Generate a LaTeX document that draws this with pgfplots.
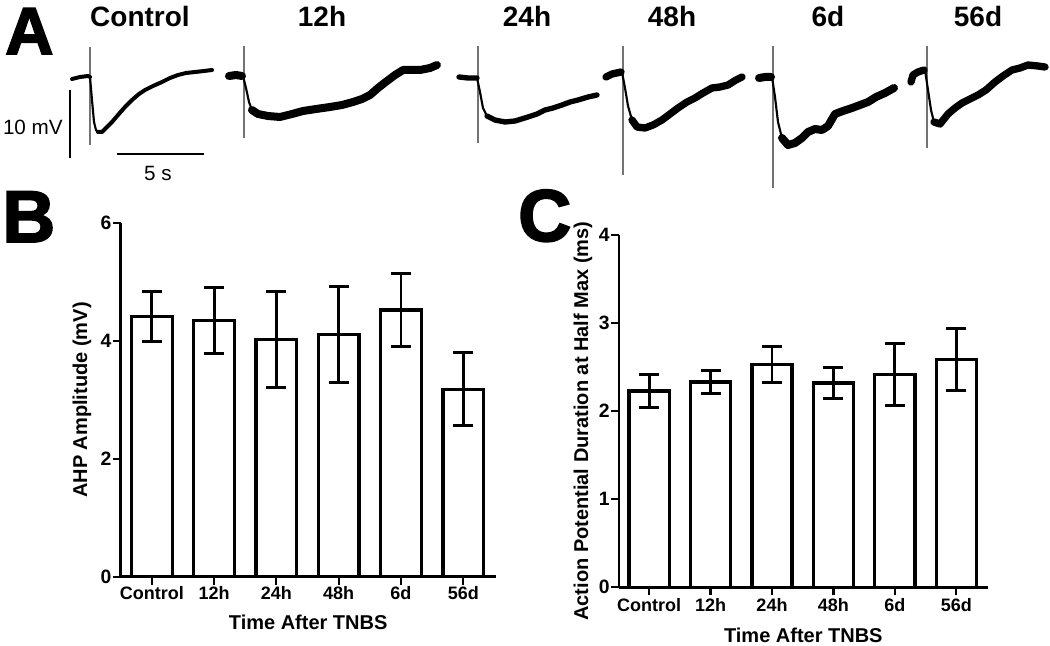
\documentclass[border=0pt]{standalone}
\usepackage{fontspec}
\setmainfont{Liberation Sans}
\newfontfamily\heavy{Liberation Sans Bold}[FakeBold=2.5]
\usepackage{pgfplots}
\usepackage{pgfplotstable}
\pgfplotsset{compat=1.18}
\definecolor{spike}{gray}{0.45}

\pgfplotstableread{
x y e
0 4.42 0.43
1 4.35 0.56
2 4.03 0.81
3 4.11 0.81
4 4.53 0.62
5 3.18 0.62
}\ahp
\pgfplotstableread{
x y e
0 2.23 0.19
1 2.33 0.13
2 2.53 0.20
3 2.32 0.18
4 2.42 0.35
5 2.59 0.35
}\apd

\pgfplotsset{
  barpanel/.style={
    scale only axis,
    axis x line=bottom, axis y line=left,
    x axis line style={-}, y axis line style={-},
    axis line style={line width=2bp, black},
    tick style={line width=1.6bp, black},
    major tick length=6bp,
    xtick align=outside, ytick align=outside,
    ymin=0,
    xtick={0,...,5},
    xticklabels={Control,12h,24h,48h,6d,56d},
    /pgf/number format/assume math mode=true,
    xticklabel style={font=\bfseries\fontsize{13.5bp}{14bp}\selectfont, inner sep=1bp},
    yticklabel style={font=\bfseries\fontsize{14.5bp}{15bp}\selectfont, inner sep=0.8bp},
    xlabel style={font=\bfseries\fontsize{15bp}{16bp}\selectfont},
    ylabel style={font=\bfseries\fontsize{15bp}{16bp}\selectfont},
    xlabel={Time After TNBS},
    ybar, bar width=0.655,
  },
  barplot/.style={
    fill=white, draw=black, line width=2.5bp,
    error bars/.cd, y dir=both, y explicit,
    error bar style={line width=2.2bp, black},
    error mark options={rotate=90, mark size=7.5bp, line width=2.2bp, black},
  },
  thin drop/.style={black, line width=1.6bp, line join=round, line cap=round},
}

\begin{document}
\begin{tikzpicture}
\useasboundingbox (0,0) rectangle (787.5bp,484.5bp);

% ---------- Panel A (pixel coordinates) ----------
\begin{axis}[at={(0,0)}, anchor=south west, scale only axis,
  width=787.5bp, height=484.5bp,
  xmin=0, xmax=1050, ymin=0, ymax=646, y dir=reverse,
  hide axis, clip=false]
% spikes
\addplot[spike, line width=0.8bp] coordinates {(90,47) (90,145)};
\addplot[spike, line width=0.8bp] coordinates {(244,46) (244,138)};
\addplot[spike, line width=0.8bp] coordinates {(478,46) (478,143)};
\addplot[spike, line width=0.8bp] coordinates {(623,46) (623,175)};
\addplot[spike, line width=0.8bp] coordinates {(773,46) (773,188)};
\addplot[spike, line width=0.8bp] coordinates {(927,46) (927,148)};
% Control
\addplot[black, line width=3bp, line join=round, line cap=round] coordinates {(72,79) (80,77) (88,76) (90,77)};
\addplot[thin drop] coordinates {(90,77) (92,100) (94,122) (96,130) (98,132)};
\addplot[black, line width=3bp, line join=round, line cap=round] coordinates {(98,132) (102,132) (106,128) (112,122) (118,115) (125,107) (132,100) (139,94) (145,90) (153,86) (162,82) (170,78) (178,75) (186,73) (195,72) (204,71) (212,70)};
% 12h
\addplot[black, line width=6bp, line join=round, line cap=round] coordinates {(229,76) (236,75) (242,76)};
\addplot[thin drop] coordinates {(243,76) (246,88) (249,102) (252,110)};
\addplot[black, line width=6bp, line join=round, line cap=round] coordinates {(252,110) (258,114) (268,116) (280,117) (292,114) (303,111) (316,109) (330,107) (342,105) (353,102) (362,99) (370,95) (378,88) (387,81) (395,75) (403,70) (412,70) (420,70) (430,68) (437,65)};
% 24h
\addplot[black, line width=4bp, line join=round, line cap=round] coordinates {(459,77) (468,78) (477,78)};
\addplot[thin drop] coordinates {(477,78) (480,92) (483,108) (487,116)};
\addplot[black, line width=4bp, line join=round, line cap=round] coordinates {(487,116) (495,120) (505,122) (515,121) (528,117) (537,114) (545,110) (553,108) (562,105) (570,102) (578,100) (588,97) (597,95)};
% 48h
\addplot[black, line width=5.5bp, line join=round, line cap=round] coordinates {(606,77) (612,74) (621,72)};
\addplot[thin drop] coordinates {(622,72) (625,88) (628,106) (632,120)};
\addplot[black, line width=5.5bp, line join=round, line cap=round] coordinates {(632,120) (637,127) (645,128) (653,125) (662,120) (670,114) (678,108) (687,102) (695,98) (703,93) (712,88) (720,87) (728,85) (736,80) (742,77)};
% 6d
\addplot[black, line width=6bp, line join=round, line cap=round] coordinates {(759,78) (765,77) (771,77)};
\addplot[thin drop] coordinates {(772,77) (775,97) (778,122) (782,138)};
\addplot[black, line width=6bp, line join=round, line cap=round] coordinates {(782,138) (788,145) (795,143) (802,138) (808,132) (815,129) (822,130) (828,126) (835,114) (843,111) (852,108) (860,105) (868,102) (876,97) (885,93) (894,88)};
% 56d
\addplot[black, line width=5.5bp, line join=round, line cap=round] coordinates {(911,82) (913,75) (918,72) (924,70)};
\addplot[thin drop] coordinates {(925,70) (928,90) (931,110) (934,122)};
\addplot[black, line width=5.5bp, line join=round, line cap=round] coordinates {(934,122) (940,124) (948,114) (955,108) (962,103) (970,99) (978,95) (986,90) (995,82) (1003,76) (1012,70) (1020,68) (1028,65) (1038,66) (1045,67)};
% scale bars
\addplot[black, line width=1.6bp] coordinates {(70,90) (70,158)};
\addplot[black, line width=1.6bp] coordinates {(117,154) (204,154)};
\node[anchor=base east, inner sep=0pt, font=\fontsize{15.5bp}{16bp}\selectfont] at (axis cs:63,134) {10 mV};
\node[anchor=base, inner sep=0pt, font=\fontsize{15.5bp}{16bp}\selectfont] at (axis cs:158,180) {5 s};
% titles
\begin{scope}[every node/.style={anchor=base, inner sep=0pt, font=\bfseries\fontsize{21bp}{22bp}\selectfont}]
\node at (axis cs:140,27) {Control};
\node at (axis cs:322,27) {12h};
\node at (axis cs:527,27) {24h};
\node at (axis cs:672,27) {48h};
\node at (axis cs:828,27) {6d};
\node at (axis cs:978,27) {56d};
\end{scope}
% panel letters
\node[anchor=base west, inner sep=0pt, font=\heavy\fontsize{50bp}{52bp}\selectfont] at (axis cs:5,54) {A};
\begin{scope}[every node/.style={anchor=base west, inner sep=0pt, font=\heavy\fontsize{55bp}{57bp}\selectfont}]
\node at (axis cs:2,242) {B};
\node at (axis cs:518,241) {C};
\end{scope}
\end{axis}

% ---------- Panel B ----------
\begin{axis}[barpanel, at={(90.5bp,52bp)}, anchor=south west,
  width=281.25bp, height=265bp,
  xmin=-0.5, xmax=5.52, ymax=6, ytick={0,2,4,6},
  ylabel={AHP Amplitude (mV)},
  ylabel style={at={(axis description cs:0,0.5)}, anchor=center, yshift=29bp},
  xlabel style={at={(axis description cs:0.5,0)}, anchor=center, yshift=-34.5bp},
]
\addplot[barplot] table[x=x, y=y, y error=e] {\ahp};
\end{axis}

% ---------- Panel C ----------
\begin{axis}[barpanel, at={(464.25bp,44bp)}, anchor=south west,
  width=276.5bp, height=264.2bp,
  xmin=-0.49, xmax=5.51, ymax=4, ytick={0,1,2,3,4},
  xticklabel style={yshift=-1.5bp},
  ylabel={Action Potential Duration at Half Max (ms)},
  ylabel style={at={(axis description cs:0,0.5)}, anchor=center, yshift=27bp, xshift=-7.5bp},
  xlabel style={at={(axis description cs:0.5,0)}, anchor=center, yshift=-36bp},
]
\addplot[barplot] table[x=x, y=y, y error=e] {\apd};
\end{axis}
\end{tikzpicture}
\end{document}
